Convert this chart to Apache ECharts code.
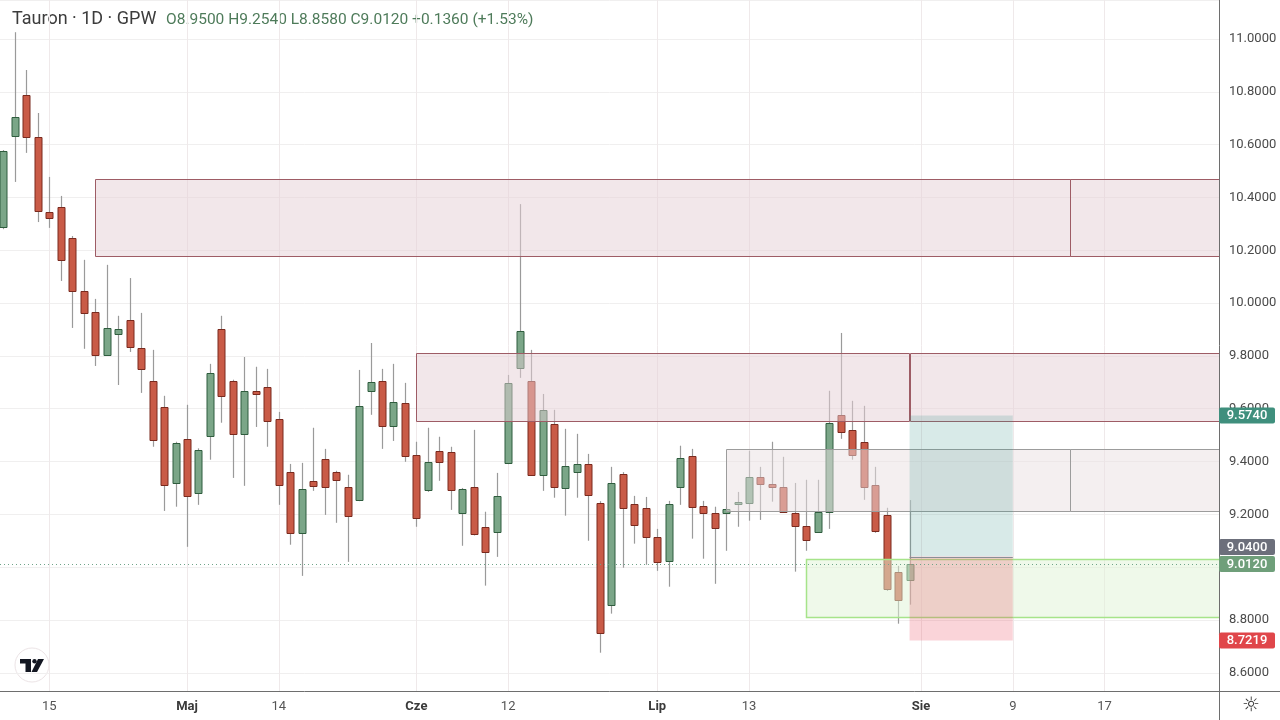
<!DOCTYPE html>
<html><head><meta charset="utf-8">
<script src="https://cdn.jsdelivr.net/npm/echarts@6/dist/echarts.min.js"></script>
<style>html,body{margin:0;padding:0;background:#fff}#c{width:1280px;height:720px}</style>
</head><body><div id="c"></div>
<script>
// ---- data ----
const opens  = [10.288,10.633,10.788,10.629,10.345,10.364,10.247,10.046,9.967,9.804,9.883,9.936,9.830,9.706,9.607,9.319,9.486,9.282,9.497,9.902,9.706,9.505,9.668,9.683,9.562,9.361,9.130,9.327,9.410,9.361,9.304,9.255,9.668,9.706,9.535,9.622,9.425,9.293,9.441,9.437,9.206,9.304,9.153,9.134,9.395,9.755,9.706,9.350,9.543,9.300,9.361,9.391,9.244,8.858,9.354,9.240,9.225,9.115,9.024,9.304,9.422,9.232,9.206,9.206,9.240,9.244,9.342,9.316,9.304,9.206,9.157,9.134,9.210,9.577,9.520,9.475,9.312,9.198,8.983,8.950];
const highs  = [10.580,11.026,10.883,10.720,10.478,10.406,10.254,10.164,10.016,10.145,9.952,10.095,9.963,9.823,9.649,9.475,9.615,9.450,9.770,9.952,9.710,9.796,9.759,9.751,9.588,9.391,9.395,9.528,9.448,9.365,9.350,9.747,9.849,9.751,9.770,9.698,9.475,9.528,9.494,9.456,9.300,9.520,9.210,9.357,9.728,10.375,9.823,9.656,9.596,9.524,9.505,9.429,9.250,9.380,9.360,9.270,9.266,9.145,9.251,9.460,9.448,9.251,9.229,9.230,9.285,9.441,9.380,9.475,9.418,9.319,9.331,9.331,9.668,9.887,9.630,9.611,9.380,9.225,9.005,9.254];
const lows   = [10.280,10.459,10.569,10.307,10.285,10.084,9.906,9.827,9.762,9.800,9.690,9.815,9.660,9.456,9.213,9.229,9.077,9.236,9.407,9.547,9.338,9.308,9.531,9.456,9.236,9.085,8.967,9.289,9.198,9.168,9.020,9.250,9.577,9.448,9.478,9.399,9.153,9.285,9.327,9.217,9.081,9.120,8.930,9.039,9.390,9.717,9.350,9.289,9.263,9.195,9.263,9.100,8.676,8.824,8.998,9.089,9.009,8.986,8.926,9.236,9.108,9.032,8.937,9.062,9.153,9.176,9.179,9.248,9.210,8.983,9.062,9.130,9.145,9.486,9.407,9.255,9.130,8.910,8.786,8.858];
const closes = [10.576,10.705,10.629,10.349,10.322,10.164,10.046,9.963,9.804,9.906,9.902,9.834,9.751,9.482,9.312,9.471,9.270,9.444,9.736,9.649,9.505,9.668,9.656,9.554,9.312,9.130,9.297,9.308,9.304,9.331,9.195,9.611,9.702,9.535,9.626,9.422,9.187,9.399,9.399,9.293,9.297,9.126,9.058,9.270,9.698,9.895,9.350,9.596,9.304,9.384,9.391,9.274,8.752,9.319,9.225,9.161,9.115,9.020,9.240,9.414,9.229,9.206,9.149,9.221,9.248,9.342,9.316,9.304,9.210,9.157,9.104,9.210,9.547,9.512,9.425,9.304,9.138,8.918,8.876,9.012];

const tickIdx  = [4, 16, 24, 36, 44, 57, 65, 80, 88, 96];
const tickText = ['15','Maj','14','Cze','12','Lip','13','Sie','9','17'];
const monthNames = ['Maj','Cze','Lip','Sie'];

// drawn zones: bar index from/to, price top/bottom, kind
const zoneFrom   = [8, 93, 36, 79, 63, 93, 70];
const zoneTo     = [93, 110, 79, 110, 93, 110, 110];
const zoneTop    = [10.470, 10.470, 9.811, 9.811, 9.447, 9.447, 9.031];
const zoneBottom = [10.178, 10.178, 9.553, 9.553, 9.213, 9.213, 8.811];
const zoneKind   = ['supply','supply','supply','supply','range','range','demand'];

// long position tool
const posFrom = 79, posTo = 88, posEntry = 9.04, posTarget = 9.574, posStop = 8.7219;

// price tags on the right scale
const tagPrice = [9.574, 9.04, 9.012, 8.7219];
const tagKind  = ['target','entry','last','stop'];

const header = 'Tauron · 1D · GPW';
const ohlcText = 'O8.9500 H9.2540 L8.8580 C9.0120 +0.1360 (+1.53%)';

// ---- styles ----
const UP_FILL='#7ba688', UP_LINE='#2f5d3e', DN_FILL='#c95b47', DN_LINE='#7a2a1e', WICK='#9a9a9a';
const zoneStyle = {
  supply:{fill:'rgba(229,208,213,0.5)', stroke:'#9e5c65'},
  range:{fill:'rgba(234,223,226,0.5)', stroke:'#9c9c9c'},
  demand:{fill:'rgba(224,243,214,0.5)', stroke:'#a6e48a'}
};
const tagColor = {target:'#3f8f7d', entry:'#6c6f7b', last:'#6f9f7a', stop:'#e0464a'};
const FONT = 'Roboto, "Noto Sans", sans-serif';

const candleData = opens.map((o,i)=>[i,o,highs[i],lows[i],closes[i]]);
const zoneData = zoneFrom.map((f,k)=>[f, zoneTo[k], zoneTop[k], zoneBottom[k], k]);

function renderCandle(params, api){
  const i=api.value(0), o=api.value(1), h=api.value(2), l=api.value(3), c=api.value(4);
  const po=api.coord([i,o]), pc=api.coord([i,c]), ph=api.coord([i,h]), pl=api.coord([i,l]);
  const cx=Math.round(po[0]);
  const up=c>=o;
  const top=Math.min(po[1],pc[1]), bot=Math.max(po[1],pc[1]);
  return {type:'group', children:[
    {type:'line', shape:{x1:cx+0.5,y1:ph[1],x2:cx+0.5,y2:pl[1]}, style:{stroke:WICK,lineWidth:1.2}},
    {type:'rect', shape:{x:cx-3, y:Math.round(top)+0.5, width:7, height:Math.max(Math.round(bot-top),1)},
      style:{fill:up?UP_FILL:DN_FILL, stroke:up?UP_LINE:DN_LINE, lineWidth:1}}
  ]};
}
function renderZone(params, api){
  const k=api.value(4);
  const a=api.coord([api.value(0), api.value(2)]), b=api.coord([api.value(1), api.value(3)]);
  const st=zoneStyle[zoneKind[k]];
  return {type:'rect', shape:{x:Math.round(a[0])+0.5, y:Math.round(a[1])+0.5, width:Math.round(b[0]-a[0]), height:Math.round(b[1]-a[1])},
    style:{fill:st.fill, stroke:st.stroke, lineWidth:k===6?1.5:1}};
}
function renderPosition(params, api){
  const t=api.coord([api.value(0), api.value(3)]), e=api.coord([api.value(1), api.value(2)]), s=api.coord([api.value(1), api.value(4)]);
  const x=t[0], w=e[0]-t[0];
  return {type:'group', children:[
    {type:'rect', shape:{x:x, y:t[1], width:w, height:e[1]-t[1]}, style:{fill:'rgba(60,150,140,0.2)'}},
    {type:'rect', shape:{x:x, y:e[1], width:w, height:s[1]-e[1]}, style:{fill:'rgba(232,60,82,0.22)'}},
    {type:'line', shape:{x1:x, y1:Math.round(e[1])+0.5, x2:x+w, y2:Math.round(e[1])+0.5}, style:{stroke:'#8a8f96', lineWidth:1}}
  ]};
}
function renderTag(params, api){
  const cs=params.coordSys;
  const k=api.value(0);
  const H=17;
  const ys=tagPrice.map(p=>api.coord([0,p])[1]);
  const order=ys.map((y,j)=>j).sort((a,b)=>ys[b]-ys[a]);
  const adj=ys.slice();
  for(let n=1;n<order.length;n++){const j=order[n], pr=order[n-1]; if(adj[pr]-adj[j]<H) adj[j]=adj[pr]-H;}
  const y=adj[k], x0=cs.x+cs.width;
  return {type:'group', children:[
    {type:'rect', shape:{x:x0, y:y-8, width:56, height:16, r:2}, style:{fill:tagColor[tagKind[k]]}},
    {type:'text', style:{x:x0+28, y:y+0.5, text:tagPrice[k].toFixed(4), fill:'#fff', font:'500 13px '+FONT, align:'center', verticalAlign:'middle'}}
  ]};
}

const chart = echarts.init(document.getElementById('c'));
chart.setOption({
  backgroundColor:'#ffffff',
  animation:false,
  grid:{left:0, right:61, top:0, bottom:29, containLabel:false},
  xAxis:{type:'value', min:-0.305, max:105.98,
    axisLine:{show:true, onZero:false, lineStyle:{color:'#6e6e6e', width:1}},
    axisTick:{show:false, customValues:tickIdx},
    axisLabel:{customValues:tickIdx, margin:9,
      formatter:v=>{const k=tickIdx.indexOf(Math.round(v)); if(k<0) return ''; const t=tickText[k]; return monthNames.includes(t)?'{m|'+t+'}':'{d|'+t+'}';},
      rich:{m:{fontFamily:FONT, fontSize:13, fontWeight:'bold', color:'#3a3a3a'}, d:{fontFamily:FONT, fontSize:13, color:'#555'}}},
    splitLine:{show:true, lineStyle:{color:'#efe9ea', width:1}}
  },
  yAxis:{type:'value', position:'right', min:8.531, max:11.148, splitNumber:13, scale:true,
    axisLine:{show:true, onZero:false, lineStyle:{color:'#6e6e6e', width:1}},
    axisTick:{show:false},
    axisLabel:{margin:10, fontFamily:FONT, fontSize:13, color:'#4a4a4a', showMinLabel:false, showMaxLabel:false,
      formatter:v=>{const q=v/0.2; return Math.abs(q-Math.round(q))<1e-6 ? v.toFixed(4) : '';}},
    splitLine:{show:true, lineStyle:{color:'#f0efef', width:1}}
  },
  series:[
    {type:'custom', name:'Tauron', renderItem:renderCandle, data:candleData, clip:true, z:2,
      encode:{x:0, y:[1,2,3,4]},
      markLine:{silent:true, symbol:['none','none'], label:{show:false},
        lineStyle:{type:[1,3], color:'#6fa489', width:1},
        data:[{yAxis:closes[closes.length-1]}]}},
    {type:'custom', renderItem:renderZone, data:zoneData, clip:true, z:3, encode:{x:[0,1], y:[2,3]}},
    {type:'custom', renderItem:renderPosition, data:[[posFrom,posTo,posEntry,posTarget,posStop]], clip:true, z:4, encode:{x:[0,1], y:[2,3,4]}},
    {type:'custom', renderItem:renderTag, data:tagPrice.map((p,k)=>[k,p]), clip:false, z:10, encode:{x:0, y:1}}
  ],
  graphic:[
    {type:'text', left:12, top:10, style:{text:header, font:'18px '+FONT, fill:'#3c3c3c'}},
    {type:'text', left:166, top:12, style:{text:ohlcText, font:'15.5px '+FONT, fill:'#4e7b5a'}},
    {type:'line', shape:{x1:1219.5, y1:691, x2:1219.5, y2:720}, style:{stroke:'#6e6e6e', lineWidth:1}},
    {type:'line', shape:{x1:1219, y1:691.5, x2:1280, y2:691.5}, style:{stroke:'#6e6e6e', lineWidth:1}},
    {type:'text', left:1242, top:696, style:{text:'☼', font:'20px "DejaVu Sans"', fill:'#333'}},
    {type:'group', children:[
      {type:'circle', shape:{cx:32, cy:665, r:17}, style:{fill:'#fff', stroke:'#ece4e6', lineWidth:1}},
      {type:'polygon', shape:{points:[[20,659],[31,659],[31,672],[25.5,672],[25.5,663.5],[20,663.5]]}, style:{fill:'#131722'}},
      {type:'circle', shape:{cx:34.5, cy:661.2, r:2.2}, style:{fill:'#131722'}},
      {type:'polygon', shape:{points:[[38,659],[44,659],[37,672],[31.5,672]]}, style:{fill:'#131722'}}
    ]}
  ]
});
</script></body></html>
